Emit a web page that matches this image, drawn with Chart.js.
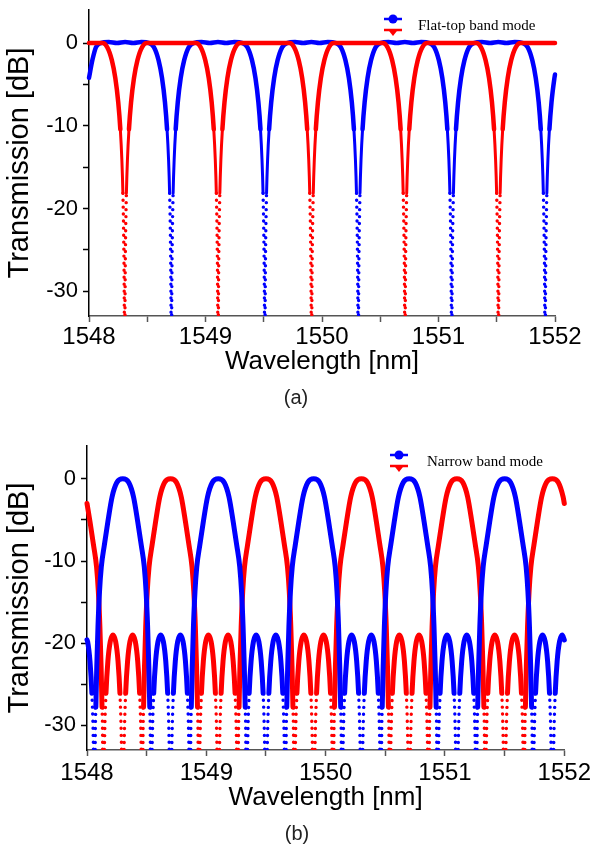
<!DOCTYPE html>
<html><head><meta charset="utf-8">
<script src="https://cdn.jsdelivr.net/npm/chart.js@4.4.0/dist/chart.umd.min.js"></script>
<style>
html,body{margin:0;padding:0;background:#fff;}
#wrap{position:relative;width:594px;height:849px;overflow:hidden;background:#fff;}
canvas{position:absolute;left:0;}
.cap{position:absolute;width:100px;text-align:center;font-family:"Liberation Sans",Arial,sans-serif;font-size:20px;color:#222;line-height:24px;}
</style></head><body>
<div id="wrap">
<canvas id="c1" width="594" height="400" style="top:0"></canvas>
<canvas id="c2" width="594" height="400" style="top:436px"></canvas>
<div class="cap" style="left:246px;top:385px">(a)</div>
<div class="cap" style="left:247px;top:821px">(b)</div>
</div>
<script>
// ---------- tick labels / text ----------
const wavelengthTicks = [1548, 1549, 1550, 1551, 1552];
const wavelengthMinorTicks = [1548.5, 1549.5, 1550.5, 1551.5];
const dbTicks = [0, -10, -20, -30];
const dbMinorTicks = [-5, -15, -25];
const xTitle = 'Wavelength [nm]';
const yTitle = 'Transmission [dB]';
const legendTop = 'Flat-top band mode';
const legendBottom = 'Narrow band mode';

// ---------- (a) flat-top band mode ----------
const topBlueX = [1548.0, 1548.03, 1548.06, 1548.1, 1548.17, 1548.24, 1548.31, 1548.38, 1548.45,
1548.517, 1548.557, 1548.597, 1548.627, 1548.652, 1548.67, 1548.683, 1548.692, 1548.698, 1548.702, 1548.7045, 1548.707, 1548.7095, 1548.712, 1548.716, 1548.722, 1548.731, 1548.744, 1548.762, 1548.787, 1548.817, 1548.857, 1548.897,
1548.967, 1549.037, 1549.107, 1549.177, 1549.247,
1549.319, 1549.359, 1549.399, 1549.429, 1549.454, 1549.472, 1549.485, 1549.494, 1549.5, 1549.504, 1549.5065, 1549.509, 1549.5115, 1549.514, 1549.518, 1549.524, 1549.533, 1549.546, 1549.564, 1549.589, 1549.619, 1549.659, 1549.699,
1549.769, 1549.839, 1549.909, 1549.979, 1550.049,
1550.121, 1550.161, 1550.201, 1550.231, 1550.256, 1550.274, 1550.287, 1550.296, 1550.302, 1550.306, 1550.3085, 1550.311, 1550.3135, 1550.316, 1550.32, 1550.326, 1550.335, 1550.348, 1550.366, 1550.391, 1550.421, 1550.461, 1550.501,
1550.571, 1550.641, 1550.711, 1550.781, 1550.851,
1550.923, 1550.963, 1551.003, 1551.033, 1551.058, 1551.076, 1551.089, 1551.098, 1551.104, 1551.108, 1551.1105, 1551.113, 1551.1155, 1551.118, 1551.122, 1551.128, 1551.137, 1551.15, 1551.168, 1551.193, 1551.223, 1551.263, 1551.303,
1551.373, 1551.443, 1551.513, 1551.583, 1551.653,
1551.725, 1551.765, 1551.805, 1551.835, 1551.86, 1551.878, 1551.891, 1551.9, 1551.906, 1551.91, 1551.9125, 1551.915, 1551.9175, 1551.92, 1551.924, 1551.93, 1551.939, 1551.952, 1551.97, 1551.995, 1552.0];
const topBlueY = [-4.2, -2.0, -0.48, 0, 0.12, 0, 0.12, 0, 0.12,
0, -0.48, -2.06, -4.23, -7.15, -10.43, -14.11, -18.15, -22.58, -27.68, -33.7, -45, -33.7, -27.68, -22.58, -18.15, -14.11, -10.43, -7.15, -4.23, -2.06, -0.48, 0,
0.12, 0, 0.12, 0, 0.12,
0, -0.48, -2.06, -4.23, -7.15, -10.43, -14.11, -18.15, -22.58, -27.68, -33.7, -45, -33.7, -27.68, -22.58, -18.15, -14.11, -10.43, -7.15, -4.23, -2.06, -0.48, 0,
0.12, 0, 0.12, 0, 0.12,
0, -0.48, -2.06, -4.23, -7.15, -10.43, -14.11, -18.15, -22.58, -27.68, -33.7, -45, -33.7, -27.68, -22.58, -18.15, -14.11, -10.43, -7.15, -4.23, -2.06, -0.48, 0,
0.12, 0, 0.12, 0, 0.12,
0, -0.48, -2.06, -4.23, -7.15, -10.43, -14.11, -18.15, -22.58, -27.68, -33.7, -45, -33.7, -27.68, -22.58, -18.15, -14.11, -10.43, -7.15, -4.23, -2.06, -0.48, 0,
0.12, 0, 0.12, 0, 0.12,
0, -0.48, -2.06, -4.23, -7.15, -10.43, -14.11, -18.15, -22.58, -27.68, -33.7, -45, -33.7, -27.68, -22.58, -18.15, -14.11, -10.43, -7.15, -4.23, -3.8];

const topRedX = [1548.0, 1548.06,
1548.116, 1548.156, 1548.196, 1548.226, 1548.251, 1548.269, 1548.282, 1548.291, 1548.297, 1548.301, 1548.3035, 1548.306, 1548.3085, 1548.311, 1548.315, 1548.321, 1548.33, 1548.343, 1548.361, 1548.386, 1548.416, 1548.456, 1548.496,
1548.566, 1548.636, 1548.706, 1548.776, 1548.846,
1548.918, 1548.958, 1548.998, 1549.028, 1549.053, 1549.071, 1549.084, 1549.093, 1549.099, 1549.103, 1549.1055, 1549.108, 1549.1105, 1549.113, 1549.117, 1549.123, 1549.132, 1549.145, 1549.163, 1549.188, 1549.218, 1549.258, 1549.298,
1549.368, 1549.438, 1549.508, 1549.578, 1549.648,
1549.72, 1549.76, 1549.8, 1549.83, 1549.855, 1549.873, 1549.886, 1549.895, 1549.901, 1549.905, 1549.9075, 1549.91, 1549.9125, 1549.915, 1549.919, 1549.925, 1549.934, 1549.947, 1549.965, 1549.99, 1550.02, 1550.06, 1550.1,
1550.17, 1550.24, 1550.31, 1550.38, 1550.45,
1550.522, 1550.562, 1550.602, 1550.632, 1550.657, 1550.675, 1550.688, 1550.697, 1550.703, 1550.707, 1550.7095, 1550.712, 1550.7145, 1550.717, 1550.721, 1550.727, 1550.736, 1550.749, 1550.767, 1550.792, 1550.822, 1550.862, 1550.902,
1550.972, 1551.042, 1551.112, 1551.182, 1551.252,
1551.324, 1551.364, 1551.404, 1551.434, 1551.459, 1551.477, 1551.49, 1551.499, 1551.505, 1551.509, 1551.5115, 1551.514, 1551.5165, 1551.519, 1551.523, 1551.529, 1551.538, 1551.551, 1551.569, 1551.594, 1551.624, 1551.664, 1551.704,
1551.77, 1551.84, 1551.91, 1551.98, 1552.0];
const topRedY = [0, 0,
0, -0.48, -2.06, -4.23, -7.15, -10.43, -14.11, -18.15, -22.58, -27.68, -33.7, -45, -33.7, -27.68, -22.58, -18.15, -14.11, -10.43, -7.15, -4.23, -2.06, -0.48, 0,
0, 0, 0, 0, 0,
0, -0.48, -2.06, -4.23, -7.15, -10.43, -14.11, -18.15, -22.58, -27.68, -33.7, -45, -33.7, -27.68, -22.58, -18.15, -14.11, -10.43, -7.15, -4.23, -2.06, -0.48, 0,
0, 0, 0, 0, 0,
0, -0.48, -2.06, -4.23, -7.15, -10.43, -14.11, -18.15, -22.58, -27.68, -33.7, -45, -33.7, -27.68, -22.58, -18.15, -14.11, -10.43, -7.15, -4.23, -2.06, -0.48, 0,
0, 0, 0, 0, 0,
0, -0.48, -2.06, -4.23, -7.15, -10.43, -14.11, -18.15, -22.58, -27.68, -33.7, -45, -33.7, -27.68, -22.58, -18.15, -14.11, -10.43, -7.15, -4.23, -2.06, -0.48, 0,
0, 0, 0, 0, 0,
0, -0.48, -2.06, -4.23, -7.15, -10.43, -14.11, -18.15, -22.58, -27.68, -33.7, -45, -33.7, -27.68, -22.58, -18.15, -14.11, -10.43, -7.15, -4.23, -2.06, -0.48, 0,
0, 0, 0, 0, 0];

// ---------- (b) narrow band mode ----------
const botBlueX = [1548.0, 1548.005, 1548.025, 1548.041, 1548.052, 1548.059, 1548.065, 1548.069, 1548.074, 1548.082, 1548.092, 1548.105, 1548.12, 1548.145, 1548.175, 1548.21, 1548.25,
1548.3, 1548.35, 1548.39, 1548.425, 1548.455, 1548.48, 1548.495, 1548.508, 1548.518, 1548.526, 1548.531, 1548.535, 1548.541, 1548.548, 1548.559, 1548.575, 1548.595, 1548.6175, 1548.64, 1548.66, 1548.676, 1548.687, 1548.694, 1548.7, 1548.706, 1548.713, 1548.724, 1548.74, 1548.76, 1548.7825, 1548.805, 1548.825, 1548.841, 1548.852, 1548.859, 1548.865, 1548.869, 1548.874, 1548.882, 1548.892, 1548.905, 1548.92, 1548.945, 1548.975, 1549.01, 1549.05,
1549.1, 1549.15, 1549.19, 1549.225, 1549.255, 1549.28, 1549.295, 1549.308, 1549.318, 1549.326, 1549.331, 1549.335, 1549.341, 1549.348, 1549.359, 1549.375, 1549.395, 1549.4175, 1549.44, 1549.46, 1549.476, 1549.487, 1549.494, 1549.5, 1549.506, 1549.513, 1549.524, 1549.54, 1549.56, 1549.5825, 1549.605, 1549.625, 1549.641, 1549.652, 1549.659, 1549.665, 1549.669, 1549.674, 1549.682, 1549.692, 1549.705, 1549.72, 1549.745, 1549.775, 1549.81, 1549.85,
1549.9, 1549.95, 1549.99, 1550.025, 1550.055, 1550.08, 1550.095, 1550.108, 1550.118, 1550.126, 1550.131, 1550.135, 1550.141, 1550.148, 1550.159, 1550.175, 1550.195, 1550.2175, 1550.24, 1550.26, 1550.276, 1550.287, 1550.294, 1550.3, 1550.306, 1550.313, 1550.324, 1550.34, 1550.36, 1550.3825, 1550.405, 1550.425, 1550.441, 1550.452, 1550.459, 1550.465, 1550.469, 1550.474, 1550.482, 1550.492, 1550.505, 1550.52, 1550.545, 1550.575, 1550.61, 1550.65,
1550.7, 1550.75, 1550.79, 1550.825, 1550.855, 1550.88, 1550.895, 1550.908, 1550.918, 1550.926, 1550.931, 1550.935, 1550.941, 1550.948, 1550.959, 1550.975, 1550.995, 1551.0175, 1551.04, 1551.06, 1551.076, 1551.087, 1551.094, 1551.1, 1551.106, 1551.113, 1551.124, 1551.14, 1551.16, 1551.1825, 1551.205, 1551.225, 1551.241, 1551.252, 1551.259, 1551.265, 1551.269, 1551.274, 1551.282, 1551.292, 1551.305, 1551.32, 1551.345, 1551.375, 1551.41, 1551.45,
1551.5, 1551.55, 1551.59, 1551.625, 1551.655, 1551.68, 1551.695, 1551.708, 1551.718, 1551.726, 1551.731, 1551.735, 1551.741, 1551.748, 1551.759, 1551.775, 1551.795, 1551.8175, 1551.84, 1551.86, 1551.876, 1551.887, 1551.894, 1551.9, 1551.906, 1551.913, 1551.924, 1551.94, 1551.96, 1551.9825, 1552.0];
const botBlueY = [-19.6, -19.8, -22.2, -26.1, -31.2, -37.9, -50, -32.5, -27.8, -22.8, -18, -13.7, -10.7, -8.1, -5.2, -2.2, -0.45,
0, -0.45, -2.2, -5.2, -8.1, -10.7, -13.7, -18, -22.8, -27.8, -32.5, -50, -37.9, -31.2, -26.1, -22.2, -19.8, -19, -19.8, -22.2, -26.1, -31.2, -37.9, -50, -37.9, -31.2, -26.1, -22.2, -19.8, -19, -19.8, -22.2, -26.1, -31.2, -37.9, -50, -32.5, -27.8, -22.8, -18, -13.7, -10.7, -8.1, -5.2, -2.2, -0.45,
0, -0.45, -2.2, -5.2, -8.1, -10.7, -13.7, -18, -22.8, -27.8, -32.5, -50, -37.9, -31.2, -26.1, -22.2, -19.8, -19, -19.8, -22.2, -26.1, -31.2, -37.9, -50, -37.9, -31.2, -26.1, -22.2, -19.8, -19, -19.8, -22.2, -26.1, -31.2, -37.9, -50, -32.5, -27.8, -22.8, -18, -13.7, -10.7, -8.1, -5.2, -2.2, -0.45,
0, -0.45, -2.2, -5.2, -8.1, -10.7, -13.7, -18, -22.8, -27.8, -32.5, -50, -37.9, -31.2, -26.1, -22.2, -19.8, -19, -19.8, -22.2, -26.1, -31.2, -37.9, -50, -37.9, -31.2, -26.1, -22.2, -19.8, -19, -19.8, -22.2, -26.1, -31.2, -37.9, -50, -32.5, -27.8, -22.8, -18, -13.7, -10.7, -8.1, -5.2, -2.2, -0.45,
0, -0.45, -2.2, -5.2, -8.1, -10.7, -13.7, -18, -22.8, -27.8, -32.5, -50, -37.9, -31.2, -26.1, -22.2, -19.8, -19, -19.8, -22.2, -26.1, -31.2, -37.9, -50, -37.9, -31.2, -26.1, -22.2, -19.8, -19, -19.8, -22.2, -26.1, -31.2, -37.9, -50, -32.5, -27.8, -22.8, -18, -13.7, -10.7, -8.1, -5.2, -2.2, -0.45,
0, -0.45, -2.2, -5.2, -8.1, -10.7, -13.7, -18, -22.8, -27.8, -32.5, -50, -37.9, -31.2, -26.1, -22.2, -19.8, -19, -19.8, -22.2, -26.1, -31.2, -37.9, -50, -37.9, -31.2, -26.1, -22.2, -19.8, -19, -19.6];

const botRedX = [1548.0, 1548.025, 1548.055, 1548.08, 1548.095, 1548.108, 1548.118, 1548.126, 1548.131, 1548.135, 1548.141, 1548.148, 1548.159, 1548.175, 1548.195, 1548.2175, 1548.24, 1548.26, 1548.276, 1548.287, 1548.294, 1548.3, 1548.306, 1548.313, 1548.324, 1548.34, 1548.36, 1548.3825, 1548.405, 1548.425, 1548.441, 1548.452, 1548.459, 1548.465, 1548.469, 1548.474, 1548.482, 1548.492, 1548.505, 1548.52, 1548.545, 1548.575, 1548.61, 1548.65,
1548.7, 1548.75, 1548.79, 1548.825, 1548.855, 1548.88, 1548.895, 1548.908, 1548.918, 1548.926, 1548.931, 1548.935, 1548.941, 1548.948, 1548.959, 1548.975, 1548.995, 1549.0175, 1549.04, 1549.06, 1549.076, 1549.087, 1549.094, 1549.1, 1549.106, 1549.113, 1549.124, 1549.14, 1549.16, 1549.1825, 1549.205, 1549.225, 1549.241, 1549.252, 1549.259, 1549.265, 1549.269, 1549.274, 1549.282, 1549.292, 1549.305, 1549.32, 1549.345, 1549.375, 1549.41, 1549.45,
1549.5, 1549.55, 1549.59, 1549.625, 1549.655, 1549.68, 1549.695, 1549.708, 1549.718, 1549.726, 1549.731, 1549.735, 1549.741, 1549.748, 1549.759, 1549.775, 1549.795, 1549.8175, 1549.84, 1549.86, 1549.876, 1549.887, 1549.894, 1549.9, 1549.906, 1549.913, 1549.924, 1549.94, 1549.96, 1549.9825, 1550.005, 1550.025, 1550.041, 1550.052, 1550.059, 1550.065, 1550.069, 1550.074, 1550.082, 1550.092, 1550.105, 1550.12, 1550.145, 1550.175, 1550.21, 1550.25,
1550.3, 1550.35, 1550.39, 1550.425, 1550.455, 1550.48, 1550.495, 1550.508, 1550.518, 1550.526, 1550.531, 1550.535, 1550.541, 1550.548, 1550.559, 1550.575, 1550.595, 1550.6175, 1550.64, 1550.66, 1550.676, 1550.687, 1550.694, 1550.7, 1550.706, 1550.713, 1550.724, 1550.74, 1550.76, 1550.7825, 1550.805, 1550.825, 1550.841, 1550.852, 1550.859, 1550.865, 1550.869, 1550.874, 1550.882, 1550.892, 1550.905, 1550.92, 1550.945, 1550.975, 1551.01, 1551.05,
1551.1, 1551.15, 1551.19, 1551.225, 1551.255, 1551.28, 1551.295, 1551.308, 1551.318, 1551.326, 1551.331, 1551.335, 1551.341, 1551.348, 1551.359, 1551.375, 1551.395, 1551.4175, 1551.44, 1551.46, 1551.476, 1551.487, 1551.494, 1551.5, 1551.506, 1551.513, 1551.524, 1551.54, 1551.56, 1551.5825, 1551.605, 1551.625, 1551.641, 1551.652, 1551.659, 1551.665, 1551.669, 1551.674, 1551.682, 1551.692, 1551.705, 1551.72, 1551.745, 1551.775, 1551.81, 1551.85,
1551.9, 1551.95, 1551.99, 1552.0];
const botRedY = [-3.0, -5.2, -8.1, -10.7, -13.7, -18, -22.8, -27.8, -32.5, -50, -37.9, -31.2, -26.1, -22.2, -19.8, -19, -19.8, -22.2, -26.1, -31.2, -37.9, -50, -37.9, -31.2, -26.1, -22.2, -19.8, -19, -19.8, -22.2, -26.1, -31.2, -37.9, -50, -32.5, -27.8, -22.8, -18, -13.7, -10.7, -8.1, -5.2, -2.2, -0.45,
0, -0.45, -2.2, -5.2, -8.1, -10.7, -13.7, -18, -22.8, -27.8, -32.5, -50, -37.9, -31.2, -26.1, -22.2, -19.8, -19, -19.8, -22.2, -26.1, -31.2, -37.9, -50, -37.9, -31.2, -26.1, -22.2, -19.8, -19, -19.8, -22.2, -26.1, -31.2, -37.9, -50, -32.5, -27.8, -22.8, -18, -13.7, -10.7, -8.1, -5.2, -2.2, -0.45,
0, -0.45, -2.2, -5.2, -8.1, -10.7, -13.7, -18, -22.8, -27.8, -32.5, -50, -37.9, -31.2, -26.1, -22.2, -19.8, -19, -19.8, -22.2, -26.1, -31.2, -37.9, -50, -37.9, -31.2, -26.1, -22.2, -19.8, -19, -19.8, -22.2, -26.1, -31.2, -37.9, -50, -32.5, -27.8, -22.8, -18, -13.7, -10.7, -8.1, -5.2, -2.2, -0.45,
0, -0.45, -2.2, -5.2, -8.1, -10.7, -13.7, -18, -22.8, -27.8, -32.5, -50, -37.9, -31.2, -26.1, -22.2, -19.8, -19, -19.8, -22.2, -26.1, -31.2, -37.9, -50, -37.9, -31.2, -26.1, -22.2, -19.8, -19, -19.8, -22.2, -26.1, -31.2, -37.9, -50, -32.5, -27.8, -22.8, -18, -13.7, -10.7, -8.1, -5.2, -2.2, -0.45,
0, -0.45, -2.2, -5.2, -8.1, -10.7, -13.7, -18, -22.8, -27.8, -32.5, -50, -37.9, -31.2, -26.1, -22.2, -19.8, -19, -19.8, -22.2, -26.1, -31.2, -37.9, -50, -37.9, -31.2, -26.1, -22.2, -19.8, -19, -19.8, -22.2, -26.1, -31.2, -37.9, -50, -32.5, -27.8, -22.8, -18, -13.7, -10.7, -8.1, -5.2, -2.2, -0.45,
0, -0.45, -2.2, -3.0];

// ---------- styling ----------
const BLUE = '#0000ff', RED = '#ff0000';
const FONT = '"Liberation Sans", Arial, sans-serif';

// st: {w: thick width, mid: level below which the line gets thinner, midW, thr: level below which it becomes dotted}
function series(xs, ys, color, st) {
  const level = c => Math.max(ys[c.p0DataIndex], ys[c.p1DataIndex]);
  const dotted = c => level(c) < st.thr;
  return {
    data: xs.map((x, i) => ({x: x, y: ys[i]})),
    borderColor: color, backgroundColor: color, borderWidth: st.w,
    pointRadius: 0, fill: false, cubicInterpolationMode: 'monotone',
    borderCapStyle: 'round', borderJoinStyle: 'round',
    clip: {left: 3, right: 3, top: 4, bottom: 0},
    segment: {
      borderWidth: c => dotted(c) ? 3.4 : (level(c) < st.mid ? st.midW : st.w),
      borderDash: c => dotted(c) ? [0.01, 7] : [],
      borderCapStyle: c => 'round'
    }
  };
}

function legendPlugin(label, sx, sy, tx) {
  return {
    id: 'legend_' + label.replace(/\W/g, ''),
    afterDraw(chart) {
      const c = chart.ctx; c.save();
      c.lineWidth = 2.5;
      c.strokeStyle = BLUE; c.beginPath(); c.moveTo(sx - 9, sy); c.lineTo(sx + 9, sy); c.stroke();
      c.fillStyle = BLUE; c.beginPath(); c.arc(sx, sy, 4.5, 0, Math.PI * 2); c.fill();
      const ry = sy + 11;
      c.strokeStyle = RED; c.beginPath(); c.moveTo(sx - 9, ry); c.lineTo(sx + 9, ry); c.stroke();
      c.fillStyle = RED; c.beginPath(); c.moveTo(sx - 5.5, ry - 1); c.lineTo(sx + 5.5, ry - 1); c.lineTo(sx, ry + 6); c.closePath(); c.fill();
      c.fillStyle = '#000'; c.font = '15px "Liberation Serif", "Times New Roman", serif';
      c.textBaseline = 'middle'; c.textAlign = 'left';
      c.fillText(label, tx, sy + 7);
      c.restore();
    }
  };
}

function options(p) {
  const xTickValues = wavelengthTicks.concat(wavelengthMinorTicks).sort((a, b) => a - b);
  const yTickValues = dbTicks.concat(dbMinorTicks).sort((a, b) => a - b);
  return {
    responsive: false, animation: false, devicePixelRatio: 1, events: [],
    layout: {padding: {left: 0, top: p.top, right: p.right, bottom: 0}},
    plugins: {legend: {display: false}, tooltip: {enabled: false}, title: {display: false}},
    scales: {
      x: {
        type: 'linear', min: 1548, max: 1552,
        afterFit: s => { s.height = p.xh; },
        afterBuildTicks: s => { s.ticks = xTickValues.map(v => ({value: v})); },
        ticks: {autoSkip: false, maxRotation: 0, padding: p.xtp, color: '#000',
                font: {family: FONT, size: 24},
                callback: v => wavelengthTicks.some(t => Math.abs(t - v) < 1e-6) ? String(Math.round(v)) : ''},
        grid: {drawOnChartArea: false, drawTicks: true, tickLength: 6, tickWidth: 1.5, tickColor: '#555'},
        border: {display: true, color: '#555', width: 1.5},
        title: {display: true, text: xTitle, color: '#000', font: {family: FONT, size: 26}, padding: {top: 0, bottom: p.xtb}}
      },
      y: {
        type: 'linear', min: -33, max: 4,
        afterFit: s => { s.width = p.yw; s.paddingTop = 0; s.paddingBottom = 0; },
        afterBuildTicks: s => { s.ticks = yTickValues.map(v => ({value: v})); },
        ticks: {autoSkip: false, padding: 5, color: '#000',
                font: {family: FONT, size: 22},
                callback: v => dbTicks.some(t => Math.abs(t - v) < 1e-6) ? String(Math.round(v)) : ''},
        grid: {drawOnChartArea: false, drawTicks: true, tickLength: 6, tickWidth: 1.5, tickColor: '#000'},
        border: {display: true, color: '#000', width: 1.5},
        title: {display: true, text: yTitle, color: '#000', font: {family: FONT, size: 29}, padding: {top: p.ytp, bottom: 0}}
      }
    }
  };
}

const topStyle = {w: 4.5, mid: -9, midW: 3, thr: -18};
const botStyle = {w: 5, mid: -100, midW: 5, thr: -24};

new Chart(document.getElementById('c1'), {
  type: 'line',
  data: {datasets: [
    series(topRedX, topRedY, RED, topStyle),
    series(topBlueX, topBlueY, BLUE, topStyle)
  ]},
  options: options({top: 10, right: 39, xh: 84, yw: 89, xtp: 1, xtb: 23, ytp: 3}),
  plugins: [legendPlugin(legendTop, 393, 19, 418)]
});

new Chart(document.getElementById('c2'), {
  type: 'line',
  data: {datasets: [
    series(botBlueX, botBlueY, BLUE, botStyle),
    series(botRedX, botRedY, RED, botStyle)
  ]},
  options: options({top: 10, right: 29, xh: 86, yw: 87, xtp: 3, xtb: 23, ytp: 3}),
  plugins: [legendPlugin(legendBottom, 399, 19, 427)]
});
</script>
</body></html>
